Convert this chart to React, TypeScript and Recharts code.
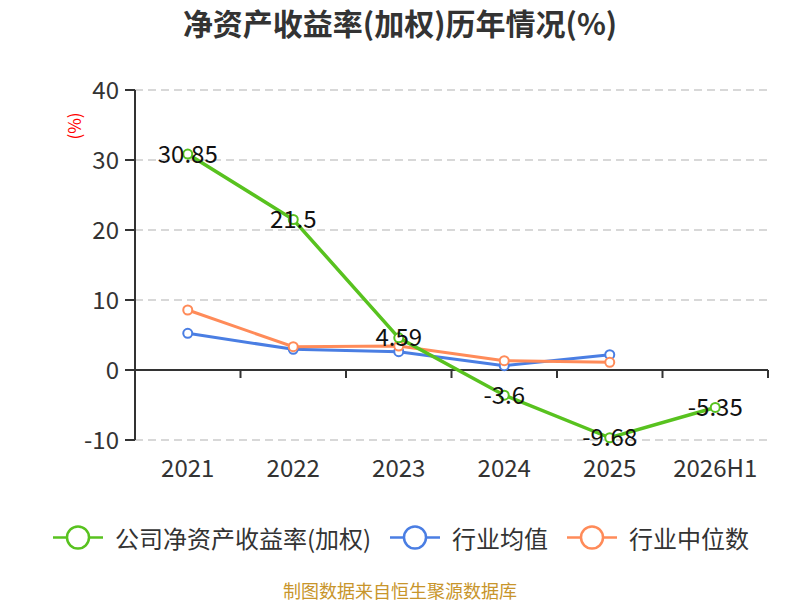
import React from 'react';
import { LineChart, Line, XAxis, YAxis, CartesianGrid, ReferenceLine, LabelList } from 'recharts';

// 报告期
const years = ['2021', '2022', '2023', '2024', '2025', '2026H1'];

// 公司净资产收益率(加权)
const companyRoe = [30.85, 21.5, 4.59, -3.6, -9.68, -5.35];
// 行业均值
const industryAvg = [5.24, 2.95, 2.62, 0.62, 2.19, null];
// 行业中位数
const industryMedian = [8.57, 3.33, 3.43, 1.33, 1.1, null];

const yTicks = [-10, 0, 10, 20, 30, 40];

const FONT = '"Noto Sans CJK SC", "Noto Sans", sans-serif';
const GREEN = '#58c21f';
const BLUE = '#4a7ee3';
const ORANGE = '#ff8b59';

const WIDTH = 800;
const HEIGHT = 600;
const PLOT_TOP = 90;
const PLOT_LEFT = 135;
const PLOT_RIGHT = 768;
const PLOT_BOTTOM = 440;
const BAND = (PLOT_RIGHT - PLOT_LEFT) / years.length;
const ZERO_Y = PLOT_TOP + ((PLOT_BOTTOM - PLOT_TOP) * 40) / 50;

const data = years.map((year, i) => ({
  year,
  company: companyRoe[i],
  avg: industryAvg[i],
  median: industryMedian[i],
}));

function XTick(props: any) {
  const { x, payload } = props;
  const edge = x + BAND / 2;
  return (
    <g>
      <line x1={edge} y1={ZERO_Y} x2={edge} y2={ZERO_Y + 8} stroke="#333" strokeWidth={2} />
      <text
        x={x}
        y={PLOT_BOTTOM + 26}
        textAnchor="middle"
        dominantBaseline="central"
        fontSize={24}
        fontFamily={FONT}
        fill="#333"
      >
        {payload.value}
      </text>
    </g>
  );
}

function ValueLabel(props: any) {
  const { x, y, value } = props;
  return (
    <text
      x={x}
      y={y - 2}
      textAnchor="middle"
      dominantBaseline="central"
      fontSize={24}
      fontFamily={FONT}
      fill="#111"
    >
      {value}
    </text>
  );
}

function LegendItem({ color, label, left }: { color: string; label: string; left: number }) {
  return (
    <div style={{ position: 'absolute', left, top: 537, transform: 'translateY(-50%)', display: 'flex', alignItems: 'center' }}>
      <svg width={50} height={26}>
        <line x1={0} y1={13} x2={50} y2={13} stroke={color} strokeWidth={2.5} />
        <circle cx={25} cy={13} r={11} fill="#fff" stroke={color} strokeWidth={2.5} />
      </svg>
      <span style={{ marginLeft: 12, fontSize: 24, color: '#333', fontFamily: FONT, whiteSpace: 'nowrap' }}>{label}</span>
    </div>
  );
}

export default function App() {
  return (
    <div style={{ position: 'absolute', left: 0, top: 0, width: WIDTH, height: HEIGHT, background: '#fff', fontFamily: FONT }}>
      <div
        style={{
          position: 'absolute',
          left: 0,
          width: WIDTH,
          top: 22,
          transform: 'translateY(-50%)',
          textAlign: 'center',
          fontSize: 30,
          fontWeight: 'bold',
          color: '#333',
        }}
      >
        净资产收益率(加权)历年情况(%)
      </div>
      <div
        style={{
          position: 'absolute',
          left: 73,
          top: 126,
          transform: 'translate(-50%, -50%) rotate(-90deg)',
          fontSize: 17,
          color: '#ff0000',
          whiteSpace: 'nowrap',
        }}
      >
        (%)
      </div>
      <LineChart
        width={WIDTH}
        height={HEIGHT}
        data={data}
        margin={{ top: PLOT_TOP, right: WIDTH - PLOT_RIGHT, bottom: HEIGHT - PLOT_BOTTOM - 40, left: 0 }}
      >
        <CartesianGrid vertical={false} stroke="#cccccc" strokeDasharray="8 5" strokeWidth={1.5} />
        <XAxis
          dataKey="year"
          axisLine={false}
          tickLine={false}
          height={40}
          tick={<XTick />}
          interval={0}
          padding={{ left: BAND / 2, right: BAND / 2 }}
        />
        <YAxis
          width={PLOT_LEFT}
          domain={[-10, 40]}
          ticks={yTicks}
          interval={0}
          tickSize={10}
          tickMargin={6}
          axisLine={{ stroke: '#333', strokeWidth: 2 }}
          tickLine={{ stroke: '#333', strokeWidth: 2 }}
          tick={{ fontSize: 24, fill: '#333', fontFamily: FONT }}
        />
        <ReferenceLine y={0} stroke="#333" strokeWidth={2} />
        <Line
          dataKey="avg"
          stroke={BLUE}
          strokeWidth={3}
          dot={{ r: 4.5, fill: '#fff', stroke: BLUE, strokeWidth: 2 }}
          isAnimationActive={false}
        />
        <Line
          dataKey="median"
          stroke={ORANGE}
          strokeWidth={3}
          dot={{ r: 4.5, fill: '#fff', stroke: ORANGE, strokeWidth: 2 }}
          isAnimationActive={false}
        />
        <Line
          dataKey="company"
          stroke={GREEN}
          strokeWidth={3.5}
          dot={{ r: 4.5, fill: '#fff', stroke: GREEN, strokeWidth: 2 }}
          isAnimationActive={false}
        >
          <LabelList dataKey="company" content={<ValueLabel />} />
        </Line>
      </LineChart>
      <LegendItem color={GREEN} label="公司净资产收益率(加权)" left={53} />
      <LegendItem color={BLUE} label="行业均值" left={390} />
      <LegendItem color={ORANGE} label="行业中位数" left={567} />
      <div
        style={{
          position: 'absolute',
          left: 0,
          width: WIDTH,
          top: 590,
          transform: 'translateY(-50%)',
          textAlign: 'center',
          fontSize: 18,
          lineHeight: 1,
          color: '#c8952b',
        }}
      >
        制图数据来自恒生聚源数据库
      </div>
    </div>
  );
}
